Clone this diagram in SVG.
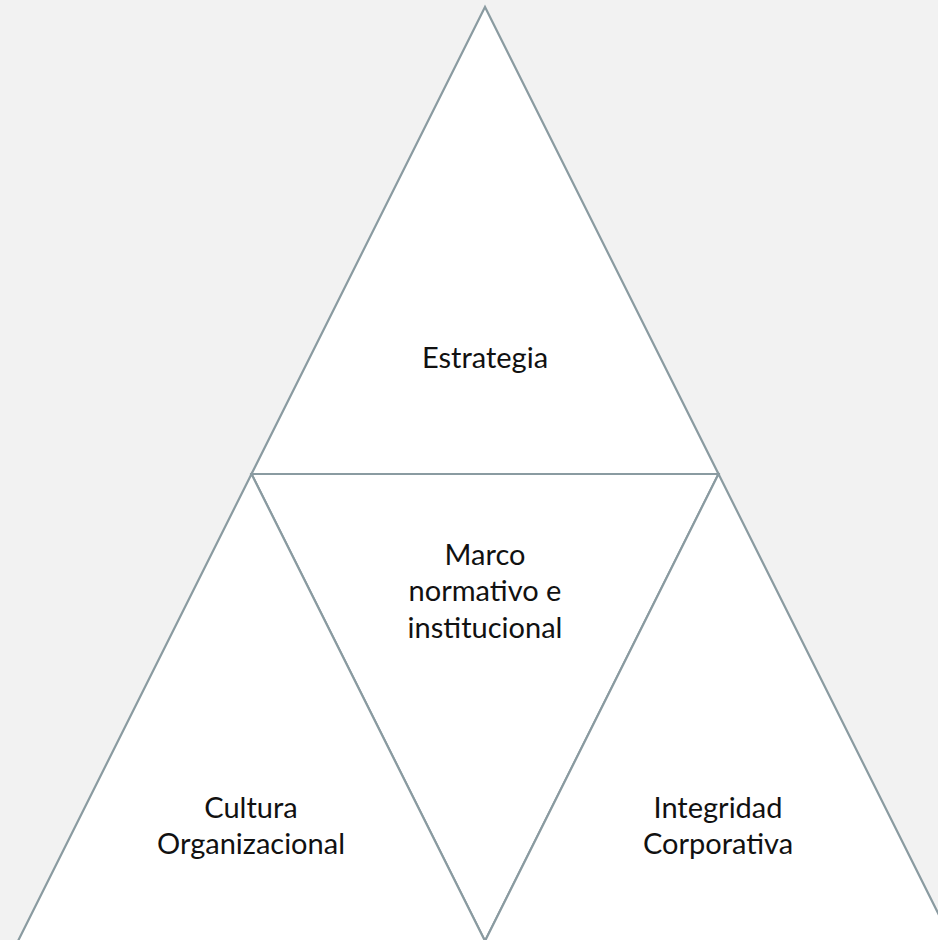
<svg xmlns="http://www.w3.org/2000/svg" width="938" height="940" viewBox="0 0 938 940">
<style>
.tri{fill:#ffffff;stroke:#8a9ba1;stroke-width:2.2;stroke-linejoin:miter}
.lbl{font-family:Lato,"Liberation Sans",sans-serif;font-size:29px;fill:#111111;text-anchor:middle}
</style>
<rect x="0" y="0" width="938" height="940" fill="#f2f2f2"/>
<g id="connectors"></g>
<g id="estrategia">
<polygon class="tri" points="485,7 251.5,474 718.5,474"/>
<text class="lbl" x="485" y="368">Estrategia</text>
</g>
<g id="marco">
<polygon class="tri" points="251.5,474 718.5,474 485,941"/>
<text class="lbl" x="485" y="565">Marco</text>
<text class="lbl" x="485" y="601">normativo e</text>
<text class="lbl" x="485" y="638">institucional</text>
</g>
<g id="cultura">
<polygon class="tri" points="251.5,474 18,941 485,941"/>
<text class="lbl" x="251" y="818">Cultura</text>
<text class="lbl" x="251" y="854">Organizacional</text>
</g>
<g id="integridad">
<polygon class="tri" points="718.5,474 485,941 952,941"/>
<text class="lbl" x="718" y="818">Integridad</text>
<text class="lbl" x="718" y="854">Corporativa</text>
</g>
</svg>
